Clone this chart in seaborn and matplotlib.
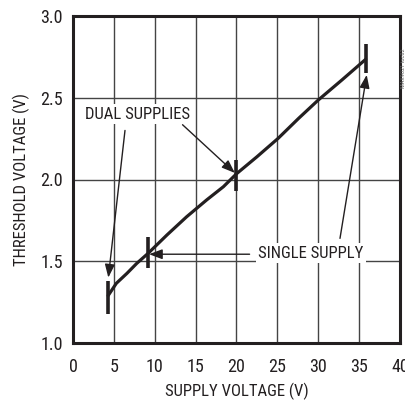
import matplotlib
matplotlib.use("Agg")
import matplotlib.pyplot as plt
import seaborn as sns
import pandas as pd

# Data
supply_v = [4.3, 5.3, 6.6, 7.8, 9.2, 11.5, 13.9, 16.35, 18.4, 20.0,
            22.5, 25.1, 27.6, 30.0, 32.9, 35.8]
threshold_v = [1.29, 1.365, 1.426, 1.487, 1.549, 1.661, 1.772, 1.875, 1.956, 2.035,
               2.139, 2.252, 2.374, 2.486, 2.609, 2.735]

mark_x = [4.3, 9.2, 20.0, 35.9]
mark_lo = [1.18, 1.46, 1.93, 2.65]
mark_hi = [1.38, 1.65, 2.12, 2.83]

x_ticks = [0, 5, 10, 15, 20, 25, 30, 35, 40]
y_ticks = [1.0, 1.5, 2.0, 2.5, 3.0]
y_tick_labels = ["1.0", "1.5", "2.0", "2.5", "3.0"]

sns.set_style("white")
plt.rcParams["font.family"] = ["Roboto Condensed", "DejaVu Sans"]

fig = plt.figure(figsize=(4.06, 4.00), dpi=100)
ax = fig.add_axes([73 / 406, 57 / 400, 327 / 406, 327 / 400])

df = pd.DataFrame({"x": supply_v, "y": threshold_v})
sns.lineplot(data=df, x="x", y="y", ax=ax, color="#231f20", lw=2.3,
             estimator=None, sort=False, zorder=4)
ax.vlines(mark_x, mark_lo, mark_hi, colors="#231f20", lw=2.6, zorder=5)

ax.set_xlim(0, 40)
ax.set_ylim(1.0, 3.0)
ax.set_xticks(x_ticks)
ax.set_yticks(y_ticks)
ax.set_yticklabels(y_tick_labels)
ax.grid(True, color="#444444", lw=1.0)
ax.set_axisbelow(True)
for s in ax.spines.values():
    s.set_color("#231f20")
    s.set_linewidth(2.2)
ax.tick_params(axis="both", length=0, labelsize=13, colors="#231f20")
ax.tick_params(axis="x", pad=10.5)
ax.tick_params(axis="y", pad=7.5)
ax.set_xlabel("SUPPLY VOLTAGE (V)", fontsize=12, color="#231f20", labelpad=5.5)
ax.set_ylabel("THRESHOLD VOLTAGE (V)", fontsize=12, color="#231f20", labelpad=7)

box = dict(boxstyle="square,pad=0.15", fc="white", ec="none")
arrow = dict(arrowstyle="-|>,head_length=0.8,head_width=0.3", color="#231f20",
             lw=1.0, shrinkA=0, shrinkB=0)

ax.text(7.9, 2.40, "DUAL SUPPLIES", fontsize=12, ha="center", va="center",
        color="#231f20", bbox=box, zorder=6)
ax.annotate("", xy=(19.8, 2.04), xytext=(13.4, 2.335), arrowprops=arrow, zorder=6)
ax.annotate("", xy=(4.32, 1.40), xytext=(6.36, 2.30), arrowprops=arrow, zorder=6)

ax.text(29.1, 1.55, "SINGLE SUPPLY", fontsize=12, ha="center", va="center",
        color="#231f20", bbox=box, zorder=6)
ax.annotate("", xy=(9.3, 1.543), xytext=(21.6, 1.543), arrowprops=arrow, zorder=6)
ax.annotate("", xy=(35.93, 2.64), xytext=(32.66, 1.64), arrowprops=arrow, zorder=6)

fig.text(0.994, 0.83, "MAX9021 toc02", rotation=90, fontsize=4.5,
         color="#666666", ha="center", va="center")

fig.savefig("out.png", dpi=100)
